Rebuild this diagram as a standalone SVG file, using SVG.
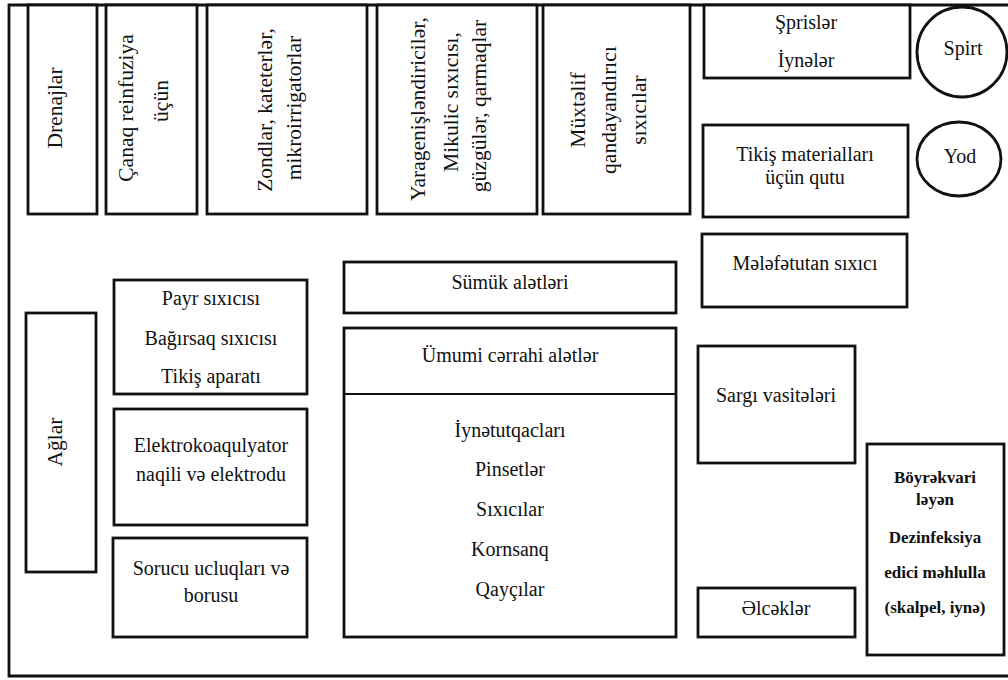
<svg xmlns="http://www.w3.org/2000/svg" width="1008" height="680" viewBox="0 0 1008 680">
<style>
.b{fill:#fff;stroke:#111;stroke-width:2.8}
.t{font-family:'Liberation Serif','DejaVu Serif',serif;font-size:20px;fill:#111;text-anchor:middle}
.v{font-family:'Liberation Serif','DejaVu Serif',serif;font-size:21.5px;fill:#111;text-anchor:middle}
.k{font-family:'Liberation Serif','DejaVu Serif',serif;font-size:17px;font-weight:bold;fill:#111;text-anchor:middle}
</style>
<rect width="1008" height="680" fill="#fff"/>
<path d="M1010,5 H9 V676 H1010" fill="none" stroke="#111" stroke-width="2.8"/>
<g id="connectors"/>
<g id="drenajlar">
<rect class="b" x="28" y="5" width="69" height="209"/>
<text class="v" x="62" y="108" transform="rotate(-90 62 108)">Drenajlar</text>
</g>
<g id="canaq">
<rect class="b" x="106" y="5" width="91" height="209"/>
<text class="v" x="133" y="108" transform="rotate(-90 133 108)">Çanaq reinfuziya</text>
<text class="v" x="168" y="101" transform="rotate(-90 168 101)">üçün</text>
</g>
<g id="zondlar">
<rect class="b" x="207" y="5" width="160" height="209"/>
<text class="v" x="272" y="110" transform="rotate(-90 272 110)">Zondlar, kateterlər,</text>
<text class="v" x="301" y="108" transform="rotate(-90 301 108)">mikroirrigatorlar</text>
</g>
<g id="yaragenislendiriciler">
<rect class="b" x="377" y="5" width="160" height="209"/>
<text class="v" x="425" y="109" transform="rotate(-90 425 109)">Yaragenişləndiricilər,</text>
<text class="v" x="458" y="102" transform="rotate(-90 458 102)">Mikulic sıxıcısı,</text>
<text class="v" x="486" y="106" transform="rotate(-90 486 106)">güzgülər, qarmaqlar</text>
</g>
<g id="muxtelif">
<rect class="b" x="543" y="5" width="147" height="209"/>
<text class="v" x="585" y="110" transform="rotate(-90 585 110)">Müxtəlif</text>
<text class="v" x="616" y="110" transform="rotate(-90 616 110)">qandayandırıcı</text>
<text class="v" x="646" y="110" transform="rotate(-90 646 110)">sıxıcılar</text>
</g>
<g id="sprisler">
<rect class="b" x="704" y="5" width="206" height="73"/>
<text class="t" x="806" y="29">Şprislər</text>
<text class="t" x="806" y="67">İynələr</text>
</g>
<g id="spirt">
<circle class="b" cx="962" cy="52" r="45"/>
<text class="t" x="963" y="55">Spirt</text>
</g>
<g id="tikis-qutu">
<rect class="b" x="703" y="125" width="205" height="92"/>
<text class="t" x="805" y="161">Tikiş materialları</text>
<text class="t" x="805" y="184">üçün qutu</text>
</g>
<g id="yod">
<ellipse class="b" cx="959" cy="159" rx="42" ry="37"/>
<text class="t" x="960" y="163">Yod</text>
</g>
<g id="melefetutan">
<rect class="b" x="702" y="234" width="205" height="73"/>
<text class="t" x="805" y="270">Mələfətutan sıxıcı</text>
</g>
<g id="sumuk">
<rect class="b" x="344" y="262" width="332" height="51"/>
<text class="t" x="510" y="289">Sümük alətləri</text>
</g>
<g id="umumi">
<rect class="b" x="344" y="328" width="332" height="309"/>
<line x1="344" y1="394" x2="676" y2="394" stroke="#111" stroke-width="2.2"/>
<text class="t" x="510" y="362">Ümumi cərrahi alətlər</text>
<text class="t" x="510" y="437">İynətutqacları</text>
<text class="t" x="510" y="476">Pinsetlər</text>
<text class="t" x="510" y="516">Sıxıcılar</text>
<text class="t" x="510" y="556">Kornsanq</text>
<text class="t" x="510" y="596">Qayçılar</text>
</g>
<g id="payr">
<rect class="b" x="114" y="280" width="193" height="114"/>
<text class="t" x="211" y="305">Payr sıxıcısı</text>
<text class="t" x="211" y="345">Bağırsaq sıxıcısı</text>
<text class="t" x="211" y="383">Tikiş aparatı</text>
</g>
<g id="aglar">
<rect class="b" x="26" y="313" width="70" height="259"/>
<text class="v" x="62" y="442" transform="rotate(-90 62 442)">Ağlar</text>
</g>
<g id="elektro">
<rect class="b" x="114" y="409" width="193" height="116"/>
<text class="t" x="211" y="452">Elektrokoaqulyator</text>
<text class="t" x="211" y="481">naqili və elektrodu</text>
</g>
<g id="sorucu">
<rect class="b" x="113" y="538" width="194" height="99"/>
<text class="t" x="211" y="575">Sorucu ucluqları və</text>
<text class="t" x="211" y="602">borusu</text>
</g>
<g id="sargi">
<rect class="b" x="698" y="346" width="157" height="117"/>
<text class="t" x="776" y="402">Sargı vasitələri</text>
</g>
<g id="boyrekvari">
<rect class="b" x="867" y="444" width="137" height="211"/>
<text class="k" x="935" y="483">Böyrəkvari</text>
<text class="k" x="935" y="505">ləyən</text>
<text class="k" x="935" y="543">Dezinfeksiya</text>
<text class="k" x="935" y="578">edici məhlulla</text>
<text class="k" x="935" y="613">(skalpel, iynə)</text>
</g>
<g id="elcekler">
<rect class="b" x="698" y="588" width="157" height="49"/>
<text class="t" x="776" y="615">Əlcəklər</text>
</g>
</svg>
